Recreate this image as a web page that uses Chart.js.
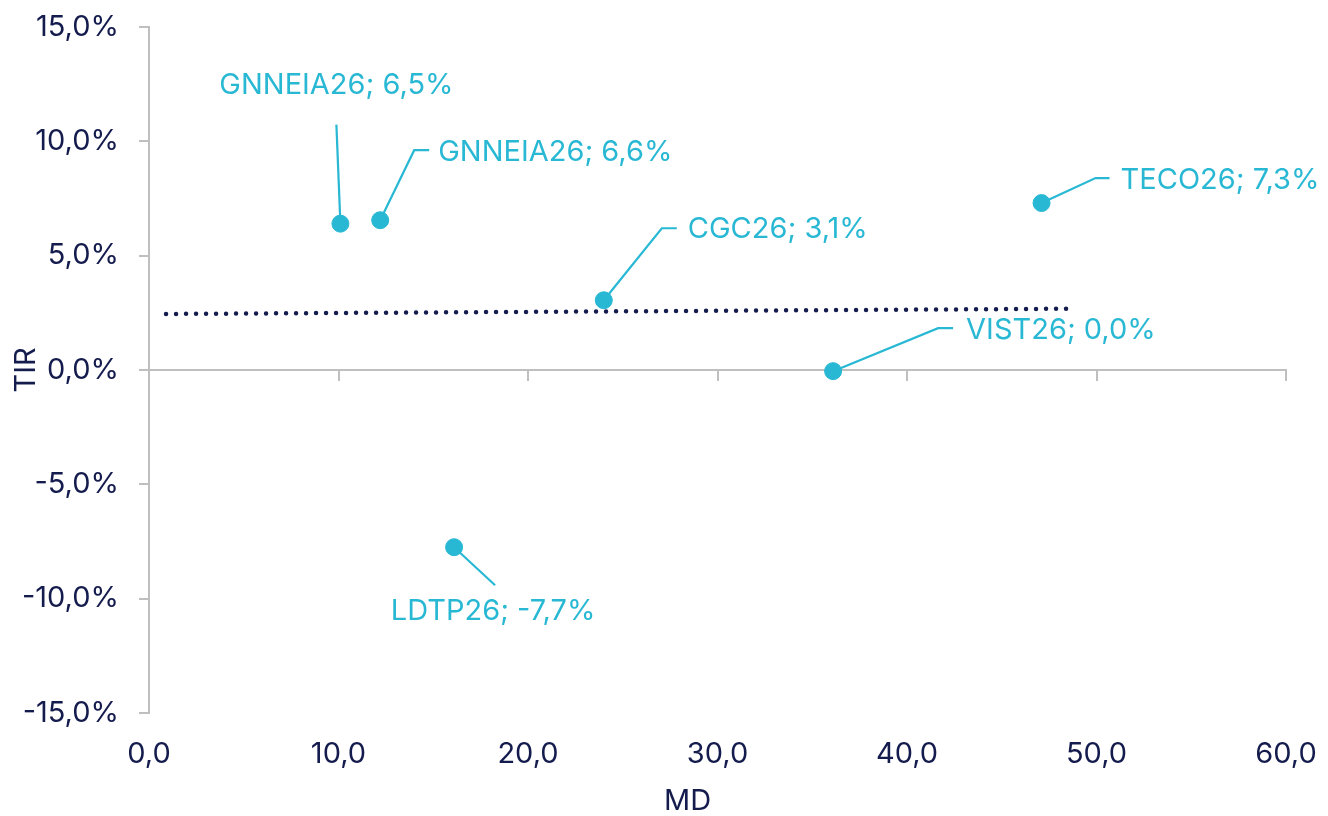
<!DOCTYPE html>
<html lang="es">
<head>
<meta charset="utf-8">
<title>TIR vs MD</title>
<script src="https://cdn.jsdelivr.net/npm/chart.js@4.4.1/dist/chart.umd.min.js"></script>
<style>
  html, body { margin: 0; padding: 0; background: #ffffff; }
  #wrap { width: 1328px; height: 816px; }
</style>
</head>
<body>
<div id="wrap"><canvas id="grafico"></canvas></div>
<script>
// Datos
const bonos = ['GNNEIA26', 'GNNEIA26', 'CGC26', 'VIST26', 'TECO26', 'LDTP26'];
const md = [10.1, 12.2, 24.0, 36.1, 47.1, 16.1];
const tir = [6.4, 6.55, 3.05, -0.05, 7.3, -7.75];
const tirEtiqueta = [6.5, 6.6, 3.1, 0.0, 7.3, -7.7];

// Línea de tendencia (extremos)
const tendenciaMd = [0.9, 48.6];
const tendenciaTir = [2.45, 2.68];

// Marcas de los ejes
const ticksX = [0, 10, 20, 30, 40, 50, 60];
const ticksY = [-15, -10, -5, 0, 5, 10, 15];

const AZUL = '#141B4D';
const CIAN = '#29B8D4';
const GRIS = '#BFBFBF';
const FUENTE = 'Inter, "Noto Sans", sans-serif';
const TAM = 29;

// Posición de cada etiqueta respecto de su punto (px)
const guias = [
    { codoX: -4, codoY: -99, finX: -4, textoX: -4, textoY: -138, alinear: 'center' },
    { codoX: 34, codoY: -70, finX: 49, textoX: 58, textoY: -68, alinear: 'left' },
    { codoX: 58, codoY: -72, finX: 73, textoX: 84, textoY: -71, alinear: 'left' },
    { codoX: 105, codoY: -43, finX: 120, textoX: 133, textoY: -41, alinear: 'left' },
    { codoX: 54, codoY: -25, finX: 68, textoX: 79, textoY: -23, alinear: 'left' },
    { codoX: 41, codoY: 38, finX: 41, textoX: 39, textoY: 64, alinear: 'center' }
];

function coma(v) {
    return v.toFixed(1).replace('.', ',');
}

const puntos = md.map((x, i) => ({ x: x, y: tir[i] }));
const tendencia = tendenciaMd.map((x, i) => ({ x: x, y: tendenciaTir[i] }));

// Líneas guía y textos de las etiquetas
const etiquetasPlugin = {
    id: 'etiquetas',
    beforeDatasetsDraw(chart) {
        const ctx = chart.ctx;
        const meta = chart.getDatasetMeta(0);
        ctx.save();
        ctx.strokeStyle = CIAN;
        ctx.lineWidth = 2.2;
        meta.data.forEach((pt, i) => {
            const g = guias[i];
            ctx.beginPath();
            ctx.moveTo(pt.x, pt.y);
            ctx.lineTo(pt.x + g.codoX, pt.y + g.codoY);
            ctx.lineTo(pt.x + g.finX, pt.y + g.codoY);
            ctx.stroke();
        });
        ctx.restore();
    },
    afterDatasetsDraw(chart) {
        const ctx = chart.ctx;
        const meta = chart.getDatasetMeta(0);
        ctx.save();
        ctx.fillStyle = CIAN;
        ctx.font = TAM + 'px ' + FUENTE;
        ctx.textBaseline = 'middle';
        meta.data.forEach((pt, i) => {
            const g = guias[i];
            ctx.textAlign = g.alinear;
            ctx.fillText(bonos[i] + '; ' + coma(tirEtiqueta[i]) + '%', pt.x + g.textoX, pt.y + g.textoY);
        });
        // Título del eje X, un poco a la izquierda del centro como en el original
        const area = chart.chartArea;
        ctx.fillStyle = AZUL;
        ctx.textAlign = 'center';
        ctx.fillText('MD', (area.left + area.right) / 2 - 30, chart.height - 15);
        ctx.restore();
    }
};

const ctx = document.getElementById('grafico').getContext('2d');
new Chart(ctx, {
    type: 'scatter',
    data: {
        datasets: [
            {
                label: 'Bonos',
                data: puntos,
                backgroundColor: CIAN,
                borderColor: CIAN,
                pointRadius: 8.5,
                pointHoverRadius: 8.5
            },
            {
                label: 'Tendencia',
                data: tendencia,
                showLine: true,
                borderColor: AZUL,
                borderWidth: 4.5,
                borderDash: [0, 10],
                borderCapStyle: 'round',
                pointRadius: 0,
                fill: false
            }
        ]
    },
    options: {
        responsive: true,
        maintainAspectRatio: false,
        animation: false,
        layout: { padding: { top: 27, right: 42, left: 0, bottom: 0 } },
        plugins: {
            legend: { display: false },
            tooltip: { enabled: false }
        },
        scales: {
            x: {
                type: 'linear',
                position: 'bottom',
                min: 0,
                max: 60,
                afterBuildTicks: (s) => { s.ticks = ticksX.map(v => ({ value: v })); },
                afterFit: (s) => { s.height = 103; s.paddingLeft = 0; s.paddingRight = 0; },
                grid: { display: false },
                border: { display: false },
                ticks: {
                    color: AZUL,
                    font: { family: FUENTE, size: TAM },
                    padding: 16,
                    maxRotation: 0,
                    callback: (v) => coma(v)
                },
                title: { display: false }
            },
            x2: {
                type: 'linear',
                position: { y: 0 },
                min: 0,
                max: 60,
                afterBuildTicks: (s) => { s.ticks = ticksX.map(v => ({ value: v })); },
                afterFit: (s) => { s.paddingLeft = 0; s.paddingRight = 0; },
                grid: { drawOnChartArea: false, drawTicks: true, tickLength: 10, color: GRIS, lineWidth: 2 },
                border: { display: true, color: GRIS, width: 2 },
                ticks: { display: false }
            },
            y: {
                type: 'linear',
                min: -15,
                max: 15,
                afterBuildTicks: (s) => { s.ticks = ticksY.map(v => ({ value: v })); },
                afterFit: (s) => { s.width = 149; s.paddingTop = 0; s.paddingBottom = 0; },
                grid: {
                    drawOnChartArea: true,
                    drawTicks: true,
                    tickLength: 10,
                    lineWidth: 2,
                    color: (c) => (c.tick && c.tick.value === 0 ? GRIS : 'rgba(0,0,0,0)'),
                    tickColor: GRIS
                },
                border: { display: true, color: GRIS, width: 2 },
                ticks: {
                    color: AZUL,
                    font: { family: FUENTE, size: TAM },
                    padding: 20,
                    callback: (v) => coma(v) + '%'
                },
                title: {
                    display: true,
                    text: 'TIR',
                    color: AZUL,
                    font: { family: FUENTE, size: TAM },
                    padding: { top: 9, bottom: 0 }
                }
            }
        }
    },
    plugins: [etiquetasPlugin]
});
</script>
</body>
</html>
